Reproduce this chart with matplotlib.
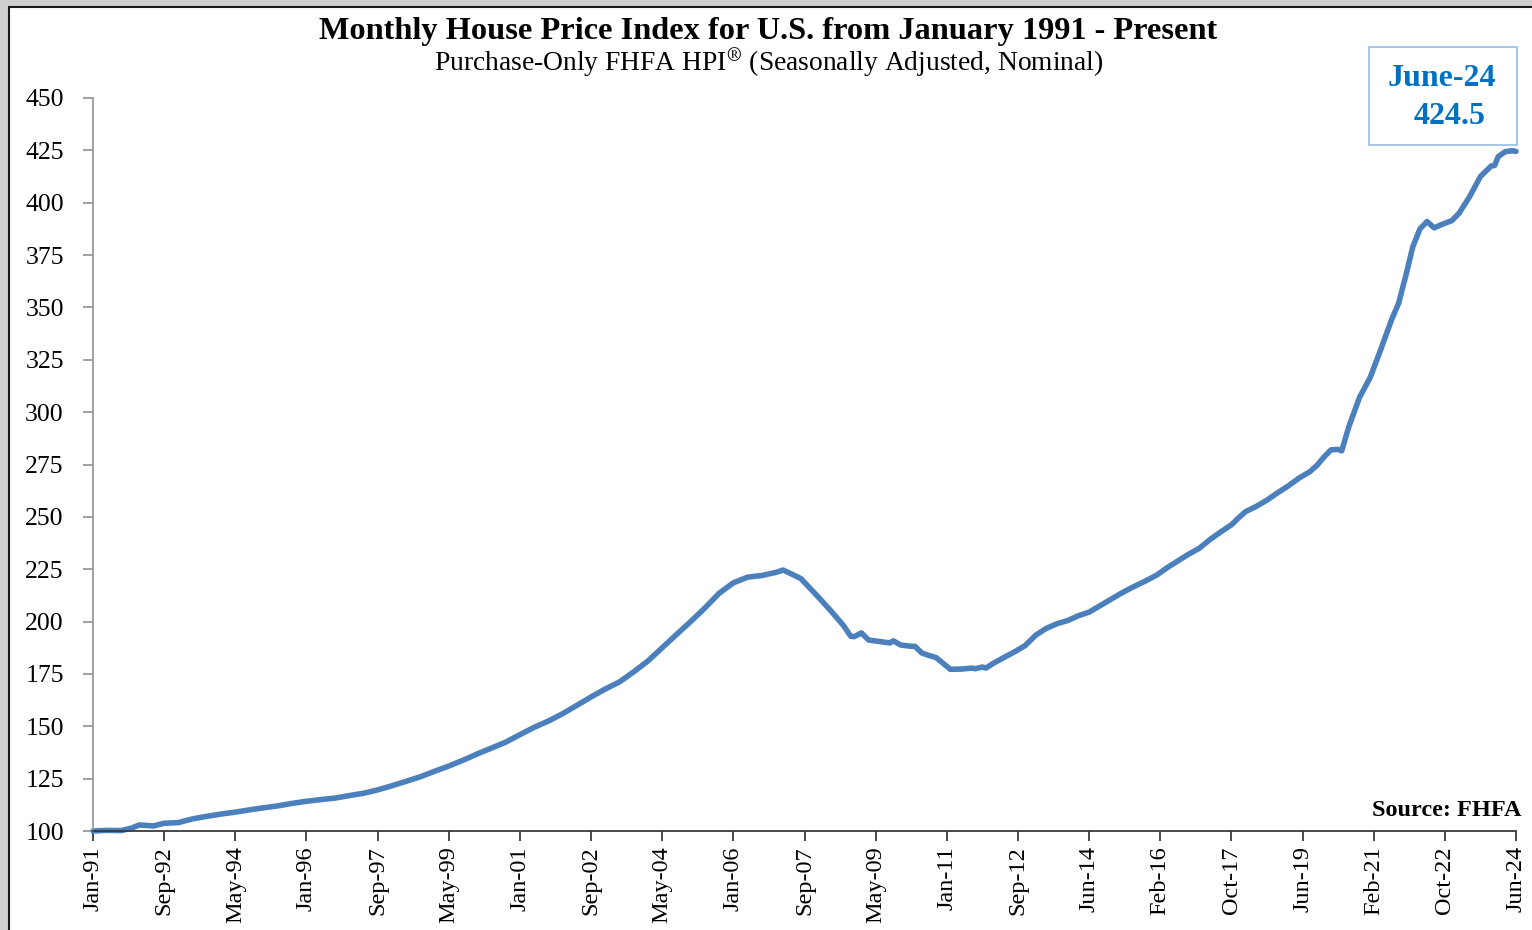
import matplotlib.pyplot as plt
from matplotlib.patches import Rectangle

# month number counted from Jan-91 (0) to Jun-24 (400)
month_idx = [0, 4, 8, 11, 13, 17, 20, 24, 28, 32, 36, 40, 44, 48, 52, 56, 60, 64, 68, 72,
             76, 80, 84, 88, 92, 96, 100, 104, 107, 108, 112, 116, 120, 124, 128, 132, 136,
             140, 144, 148, 152, 156, 160, 164, 168, 172, 176, 180, 184, 188, 192, 194, 196,
             199, 204, 208, 211, 213, 214, 216, 218, 221, 224, 225, 227, 230, 231, 233, 235,
             237, 239, 241, 244, 247, 248, 250, 251, 253, 256, 259, 262, 265, 268, 271, 274,
             277, 280, 283, 286, 289, 292, 296, 299, 302, 305, 308, 311, 314, 317, 320, 322,
             324, 327, 330, 333, 336, 339, 342, 344, 346, 348, 350, 351, 353, 356, 359, 362,
             365, 367, 369, 371, 373, 375, 377, 379, 382, 384, 387, 390, 393, 394, 395, 397,
             399, 400]

hpi = [100.0, 100.3, 100.2, 101.5, 102.9, 102.4, 103.7, 104.0, 105.8, 107.0, 108.1, 109.0,
       110.1, 111.1, 112.0, 113.2, 114.2, 115.0, 115.7, 116.9, 118.0, 119.6, 121.6, 123.7,
       125.9, 128.5, 131.0, 133.8, 136.0, 136.8, 139.6, 142.4, 146.0, 149.5, 152.5, 156.0,
       160.0, 164.0, 167.8, 171.2, 176.0, 181.2, 187.5, 193.8, 200.0, 206.5, 213.5, 218.5,
       221.2, 222.0, 223.5, 224.6, 223.0, 220.5, 211.5, 204.0, 198.0, 193.0, 192.8, 194.6,
       191.2, 190.5, 189.8, 190.8, 188.8, 188.2, 188.2, 185.0, 183.8, 182.8, 180.0, 177.2,
       177.3, 177.8, 177.5, 178.3, 177.8, 180.0, 182.8, 185.5, 188.5, 193.5, 196.8, 199.0,
       200.5, 202.8, 204.5, 207.5, 210.5, 213.5, 216.2, 219.5, 222.2, 225.8, 229.0, 232.2,
       235.0, 239.2, 242.8, 246.2, 249.5, 252.5, 255.0, 258.0, 261.5, 264.8, 268.5, 271.5,
       274.5, 278.5, 282.0, 282.2, 281.5, 293.0, 307.0, 316.5, 330.0, 344.0, 352.0, 365.0,
       379.0, 387.5, 391.0, 388.0, 389.5, 391.5, 395.0, 403.0, 412.5, 417.5, 417.8, 422.0,
       424.4, 424.8, 424.5]

tick_labels = ["Jan-91", "Sep-92", "May-94", "Jan-96", "Sep-97", "May-99", "Jan-01",
               "Sep-02", "May-04", "Jan-06", "Sep-07", "May-09", "Jan-11", "Sep-12",
               "Jun-14", "Feb-16", "Oct-17", "Jun-19", "Feb-21", "Oct-22", "Jun-24"]
tick_pos = list(range(0, 401, 20))
y_ticks = list(range(100, 451, 25))

latest_label = "June-24"
latest_value = 424.5

plt.rcParams['font.family'] = ['Liberation Serif', 'DejaVu Serif']
plt.rcParams['mathtext.fontset'] = 'stix'

fig = plt.figure(figsize=(15.32, 9.3), dpi=100, facecolor='#cfcfcf')
# white panel with a dark frame on the top/left edge
fig.patches.append(Rectangle((9 / 1532, -0.1), 1.2, 1.1 - 7 / 930, transform=fig.transFigure,
                             facecolor='white', edgecolor='#1a1a1a', lw=1.5, zorder=-5))

ax = fig.add_axes([93 / 1532, 1 - 831 / 930, (1516 - 93) / 1532, (831 - 98) / 930])
ax.set_facecolor('none')

ax.plot(month_idx, hpi, color='#4c80bd', lw=4.0, solid_capstyle='round',
        solid_joinstyle='round', clip_on=False)

ax.set_xlim(0, 400)
ax.set_ylim(100, 450)
ax.set_xticks(tick_pos)
ax.set_xticklabels(tick_labels, rotation=90, fontsize=17.5)
ax.set_yticks(y_ticks)
ax.set_yticklabels([str(v) for v in y_ticks], fontsize=18.5)

for s in ['top', 'right']:
    ax.spines[s].set_visible(False)
ax.spines['left'].set_color('#9a9a9a')
ax.spines['left'].set_linewidth(1.3)
ax.spines['bottom'].set_color('#3a3a3a')
ax.spines['bottom'].set_linewidth(1.3)
ax.tick_params(axis='y', length=7, width=1.3, color='#9a9a9a', pad=14)
ax.tick_params(axis='x', length=7, width=1.3, color='#3a3a3a', pad=4)

fig.text(0.5015, 1 - 31 / 930, "Monthly House Price Index for U.S. from January 1991 - Present",
         ha='center', va='center', fontsize=23.3, fontweight='bold')
fig.text(0.5015, 1 - 62 / 930,
         r"Purchase-Only FHFA HPI$^{\circledR}$ (Seasonally Adjusted, Nominal)",
         ha='center', va='center', fontsize=19.8)

# latest reading box
fig.patches.append(Rectangle((1369 / 1532, 1 - 145 / 930), 148 / 1532, 98 / 930,
                             transform=fig.transFigure, facecolor='white',
                             edgecolor='#9dc3e6', lw=1.3, zorder=2))
fig.text(1442 / 1532, 1 - 78 / 930, latest_label, ha='center', va='center',
         fontsize=23, fontweight='bold', color='#0070c0', zorder=3)
fig.text(1450 / 1532, 1 - 117 / 930, f"{latest_value:.1f}", ha='center', va='center',
         fontsize=23, fontweight='bold', color='#0070c0', zorder=3)

fig.text(1521 / 1532, 1 - 810 / 930, "Source: FHFA", ha='right', va='center',
         fontsize=17.5, fontweight='bold')

fig.savefig('out.png', dpi=100, facecolor=fig.get_facecolor())
